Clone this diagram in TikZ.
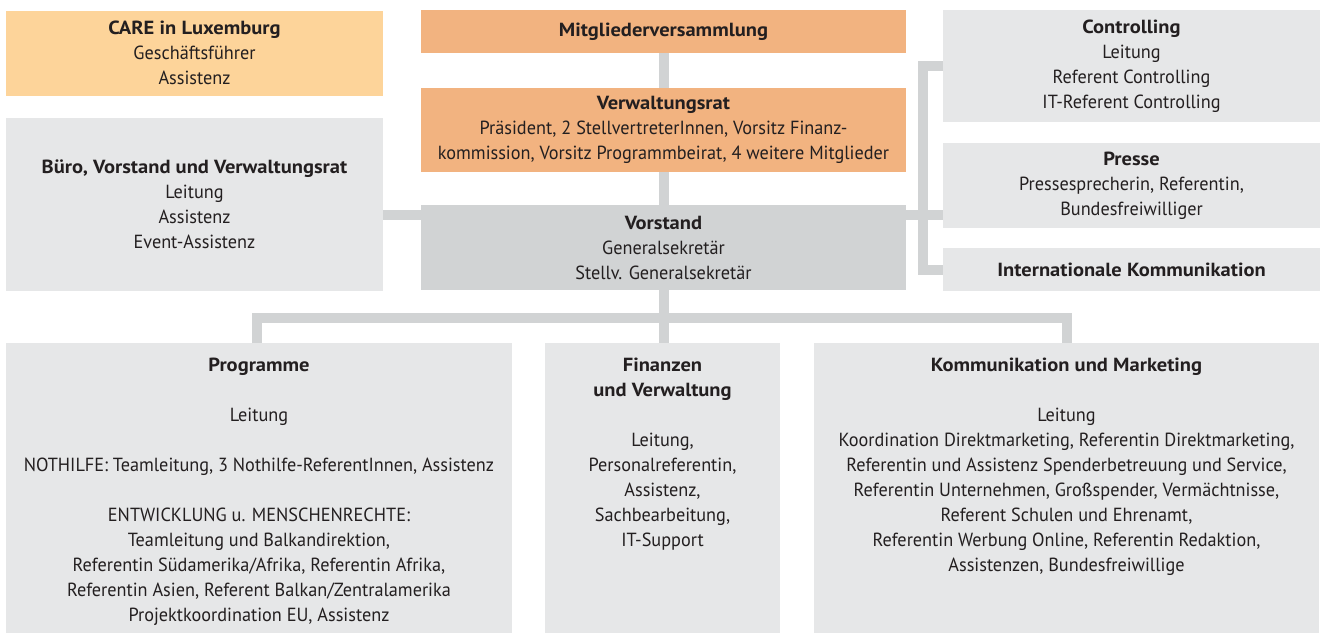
\documentclass[tikz,border=0pt]{standalone}
\usepackage{fontspec}
\setmainfont{PT Sans}[FakeStretch=0.96, BoldFeatures={FakeStretch=1.08}]
\definecolor{orangeA}{HTML}{F2B380}
\definecolor{orangeB}{HTML}{FDD49A}
\definecolor{greyA}{HTML}{E6E7E8}
\definecolor{greyB}{HTML}{D1D3D4}
\definecolor{txt}{HTML}{231F20}
\begin{document}
\begin{tikzpicture}[x=1pt,y=-1pt,
  box/.style={rectangle, inner sep=0pt, outer sep=0pt, align=center, text=txt,
    font=\fontsize{19}{25}\selectfont},
  lbl/.style={inner sep=0pt, outer sep=0pt, align=center, text=txt, anchor=north,
    font=\fontsize{19}{25}\selectfont},
  conn/.style={draw=greyB, line width=10pt},
]
\useasboundingbox (0,0) rectangle (1324,633);

% top-left
\node[box, fill=orangeB, minimum width=377pt, minimum height=85pt] (care) at (194.5,53)
  {\textbf{CARE in Luxemburg}\\Geschäftsführer\\Assistenz};
\node[box, fill=greyA, minimum width=377pt, minimum height=173pt] (buero) at (194.5,204.5)
  {\textbf{Büro, Vorstand und Verwaltungsrat}\\Leitung\\Assistenz\\Event-Assistenz};

% centre column
\node[box, fill=orangeA, minimum width=485pt, minimum height=43pt] (mv) at (663.5,31.5)
  {\textbf{Mitgliederversammlung}};
\node[box, fill=orangeA, minimum width=485pt, minimum height=84pt] (vr) at (663.5,130)
  {\textbf{Verwaltungsrat}\\Präsident, 2 StellvertreterInnen, Vorsitz Finanz-\\kommission, Vorsitz Programmbeirat, 4 weitere Mitglieder};
\node[box, fill=greyB, minimum width=485pt, minimum height=85pt] (vs) at (663.5,247.5)
  {\textbf{Vorstand}\\Generalsekretär\\Stellv. Generalsekretär};

% right column
\node[box, fill=greyA, minimum width=377pt, minimum height=112pt] (ctrl) at (1131.5,66)
  {\textbf{Controlling}\\Leitung\\Referent Controlling\\IT-Referent Controlling};
\node[box, fill=greyA, minimum width=377pt, minimum height=85pt] (presse) at (1131.5,185.5)
  {\textbf{Presse}\\Pressesprecherin, Referentin,\\Bundesfreiwilliger};
\node[box, fill=greyA, minimum width=377pt, minimum height=43pt] (intl) at (1131.5,269.5)
  {\textbf{Internationale Kommunikation}};

% bottom row
\node[box, fill=greyA, minimum width=506pt, minimum height=290pt] (prog) at (259,488) {};
\node[box, fill=greyA, minimum width=235pt, minimum height=290pt] (fin) at (662.5,488) {};
\node[box, fill=greyA, minimum width=505pt, minimum height=290pt] (komm) at (1066.5,488) {};

\node[lbl] (progt) at ([yshift=-15pt]prog.north)
  {\textbf{Programme}\\[25pt]Leitung\\[25pt]NOTHILFE: Teamleitung, 3 Nothilfe-ReferentInnen, Assistenz\\[25pt]ENTWICKLUNG u. MENSCHENRECHTE:\\Teamleitung und Balkandirektion,\\Referentin Südamerika/Afrika, Referentin Afrika,\\Referentin Asien, Referent Balkan/Zentralamerika\\Projektkoordination EU, Assistenz};
\node[lbl] (fint) at ([yshift=-15pt]fin.north)
  {\textbf{Finanzen}\\\textbf{und Verwaltung}\\[25pt]Leitung,\\Personalreferentin,\\Assistenz,\\Sachbearbeitung,\\IT-Support};
\node[lbl] (kommt) at ([yshift=-15pt]komm.north)
  {\textbf{Kommunikation und Marketing}\\[25pt]Leitung\\Koordination Direktmarketing, Referentin Direktmarketing,\\Referentin und Assistenz Spenderbetreuung und Service,\\Referentin Unternehmen, Großspender, Vermächtnisse,\\Referent Schulen und Ehrenamt,\\Referentin Werbung Online, Referentin Redaktion,\\Assistenzen, Bundesfreiwillige};

% connectors
\coordinate (mid) at (0,215);
\coordinate (rx) at (923,0);
\coordinate (bl) at (257,318);
\draw[conn] (mv.south) -- (vr.north);
\draw[conn] (vr.south) -- (vs.north);
\draw[conn] (vs.west |- mid) -- (buero.east |- mid);
\draw[conn] (vs.east |- mid) -- (presse.west |- mid);
\draw[conn] (ctrl.west) -- (ctrl.west -| rx) |- (intl.west);
\draw[conn] (vs.south) -- (vs.south |- fin.north);
\draw[conn] (prog.north -| bl) -- (bl) -| (komm.north);
\end{tikzpicture}
\end{document}
